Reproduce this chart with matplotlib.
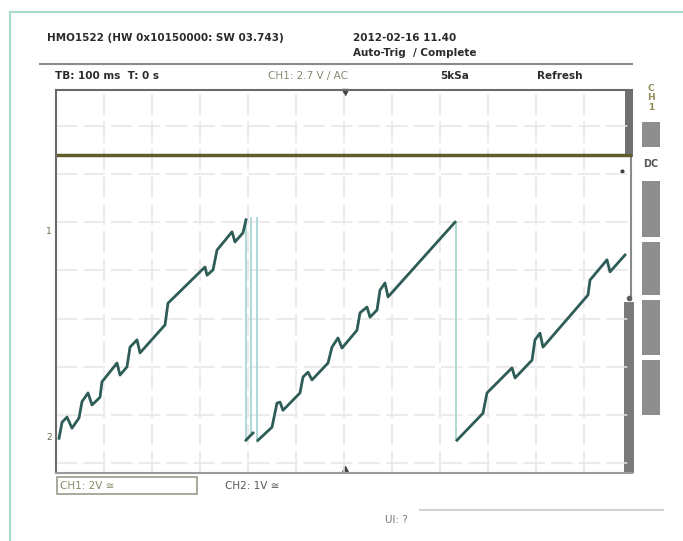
import matplotlib
matplotlib.use("Agg")
import matplotlib.pyplot as plt
import numpy as np

# CH1 sawtooth, time in ms (100 ms/div), amplitude in divisions
ramp1_t = [6.3, 12.5, 22.9, 33.3, 47.9, 54.2, 66.7, 75.0, 91.7, 95.8, 127.1, 133.3,
           147.9, 154.2, 168.8, 175.0, 227.1, 233.3, 300.0, 310.4, 314.6, 327.1,
           335.4, 366.7, 372.9, 389.6, 395.8]
ramp1_v = [-2.48, -2.15, -2.04, -2.27, -2.06, -1.72, -1.54, -1.79, -1.63, -1.31, -0.92, -1.17,
           -1.00, -0.59, -0.44, -0.71, -0.13, 0.32, 0.97, 1.07, 0.90, 1.01,
           1.42, 1.80, 1.59, 1.78, 2.05]
ramp2_t = [420.8, 450.0, 460.4, 466.7, 472.9, 508.3, 514.6, 525.0, 533.3, 566.7, 575.0,
           587.5, 595.8, 627.1, 633.3, 647.9, 654.2, 668.8, 675.0, 685.4, 691.7, 831.3]
ramp2_v = [-2.52, -2.25, -1.75, -1.73, -1.90, -1.54, -1.21, -1.11, -1.27, -0.92, -0.59,
           -0.40, -0.61, -0.24, 0.12, 0.24, 0.03, 0.18, 0.59, 0.74, 0.45, 2.00]
ramp3_t = [835.4, 889.6, 897.9, 950.0, 956.3, 991.7, 997.9, 1008.3, 1014.6, 1108.3,
           1112.5, 1147.9, 1154.2, 1185.4]
ramp3_v = [-2.52, -1.96, -1.54, -1.02, -1.23, -0.86, -0.44, -0.30, -0.59, 0.49,
           0.80, 1.22, 0.97, 1.32]
short_t = [395.8, 410.4]
short_v = [-2.52, -2.37]
# retrace (flyback) lines: time, top, bottom
drops_t = [395.8, 406.0, 418.8, 833.0]
drops_top = [2.05, 2.08, 2.08, 2.00]
drops_bot = [-2.48, -2.40, -2.55, -2.52]

# CH2 flat trace
ch2_t = [0, 1200]
ch2_v = [3.39, 3.39]

TRACE = "#2e5c57"
RETRACE = "#a9d6d4"
TXT = "#2b2b2b"

fig = plt.figure(figsize=(6.83, 5.41), dpi=100)
deco = fig.add_axes([0, 0, 1, 1], zorder=0)
deco.set_xlim(0, 683)
deco.set_ylim(541, 0)
deco.axis("off")

# outer frame (mint)
deco.plot([10, 683], [12, 12], color="#a6dcc9", lw=1.5)
deco.plot([10, 10], [12, 541], color="#a6dcc9", lw=1.5)

# header
hdr = dict(fontsize=7.5, color=TXT, va="center", fontweight="bold")
deco.text(47, 38, "HMO1522 (HW 0x10150000: SW 03.743)", **hdr)
deco.text(353, 38, "2012-02-16 11.40", **hdr)
deco.text(353, 53, "Auto-Trig  / Complete", **hdr)
deco.plot([40, 632], [64, 64], color="#8a8a8a", lw=1.5)
deco.text(55, 76, "TB: 100 ms  T: 0 s", **hdr)
deco.text(268, 76, "CH1: 2.7 V / AC", fontsize=7.5, color="#8a8870", va="center")
deco.text(440, 76, "5kSa", **hdr)
deco.text(537, 76, "Refresh", **hdr)

# right side panel
deco.text(651, 98, "C\nH\n1", fontsize=6.5, color="#8f8c55", ha="center", va="center",
          fontweight="bold", linespacing=1.1)
deco.text(651, 164, "DC", fontsize=7, color="#555555", ha="center", va="center", fontweight="bold")
for y0, y1 in [(122, 147), (181, 237), (242, 295), (300, 355), (360, 415)]:
    deco.add_patch(plt.Rectangle((642, y0), 18, y1 - y0, color="#8e8e8e", lw=0))

# right edge bar
deco.add_patch(plt.Rectangle((625, 90), 8, 67, color="#707070", lw=0))
deco.plot([631, 631], [157, 300], color="#8a8a8a", lw=1.5)
deco.plot([629], [298], "o", color="#606060", ms=3)
deco.add_patch(plt.Rectangle((624, 302), 10, 171, color="#7a7a7a", lw=0))
deco.plot([622], [171], "o", color="#404040", ms=2)

# channel markers
deco.text(52, 232, "1", fontsize=6.5, color="#6e6c4a", ha="right", va="center")
deco.text(52, 437, "2", fontsize=6.5, color="#6e6c4a", ha="right", va="center")

# trigger markers
deco.plot([345], [92], "v", color="#444444", ms=4)
deco.plot([345], [469], "^", color="#444444", ms=4)

# bottom labels
deco.add_patch(plt.Rectangle((57, 477), 140, 17, fill=False, ec="#9a9a8a", lw=1.2))
deco.text(60, 486, "CH1: 2V \u2245", fontsize=7.5, color="#8a8866", va="center")
deco.text(225, 486, "CH2: 1V \u2245", fontsize=7.5, color="#555555", va="center")
deco.plot([420, 663], [510, 510], color="#d2d2d2", lw=1.5)
deco.text(385, 520, "Ul: ?", fontsize=7.5, color="#777777", va="center")

# scope screen
ax = fig.add_axes([56 / 683, (541 - 473) / 541, 576 / 683, 383 / 541], zorder=1)
ax.set_facecolor("none")
ax.set_xlim(0, 1200)
ax.set_ylim(-3.2, 4.74)
ax.set_xticks(np.arange(100, 1200, 100))
ax.set_yticks(np.arange(-3, 5, 1))
ax.tick_params(length=0, labelbottom=False, labelleft=False)
ax.set_axisbelow(True)
ax.grid(color="#e6e6e6", lw=1.1, ls=(0, (14, 4)))
for s in ["left", "top"]:
    ax.spines[s].set_color("#6a6a6a")
    ax.spines[s].set_linewidth(1.5)
ax.spines["bottom"].set_color("#9a9a9a")
ax.spines["bottom"].set_linewidth(1.5)
ax.spines["right"].set_visible(False)

ax.plot(ch2_t, ch2_v, color="#5f5c2c", lw=2.5, solid_capstyle="butt")
for t, top, bot in zip(drops_t, drops_top, drops_bot):
    ax.plot([t, t], [top, bot], color=RETRACE, lw=1.3)
for tt, vv in [(ramp1_t, ramp1_v), (ramp2_t, ramp2_v), (ramp3_t, ramp3_v), (short_t, short_v)]:
    ax.plot(tt, vv, color=TRACE, lw=2.0, solid_joinstyle="round")

fig.savefig("out.png", dpi=100)
